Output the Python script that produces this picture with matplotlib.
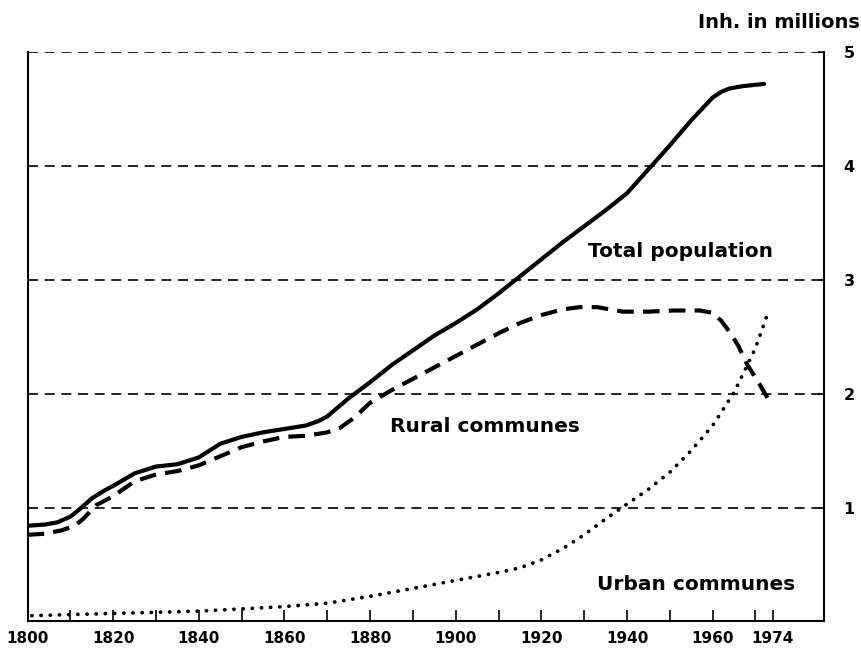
import matplotlib
matplotlib.use("Agg")
from matplotlib import pyplot as plt

# values (millions of inhabitants)
total_years = [1800, 1804, 1807, 1810, 1812, 1815, 1818, 1820, 1825, 1830, 1835, 1840, 1845,
               1850, 1855, 1860, 1865, 1868, 1870, 1875, 1880, 1885, 1890, 1895, 1900, 1905,
               1910, 1915, 1920, 1925, 1930, 1935, 1940, 1945, 1950, 1955, 1960, 1962, 1964,
               1967, 1972]
total_pop = [0.84, 0.85, 0.87, 0.92, 0.98, 1.08, 1.15, 1.19, 1.30, 1.36, 1.38, 1.44, 1.56,
             1.62, 1.66, 1.69, 1.72, 1.76, 1.80, 1.96, 2.10, 2.25, 2.38, 2.51, 2.62, 2.74,
             2.88, 3.03, 3.18, 3.33, 3.47, 3.61, 3.76, 3.97, 4.18, 4.40, 4.60, 4.65, 4.68,
             4.70, 4.72]

rural_years = [1800, 1804, 1808, 1811, 1813, 1816, 1820, 1825, 1830, 1835, 1840, 1845, 1850,
               1855, 1860, 1865, 1870, 1873, 1876, 1880, 1885, 1890, 1895, 1900, 1905, 1910,
               1915, 1920, 1925, 1929, 1933, 1939, 1945, 1951, 1957, 1960, 1962, 1964, 1966,
               1968, 1971, 1973]
rural_pop = [0.76, 0.77, 0.80, 0.84, 0.90, 1.02, 1.10, 1.23, 1.29, 1.32, 1.37, 1.45, 1.53,
             1.58, 1.62, 1.63, 1.66, 1.70, 1.78, 1.92, 2.03, 2.13, 2.23, 2.33, 2.43, 2.53,
             2.62, 2.69, 2.74, 2.76, 2.76, 2.72, 2.72, 2.73, 2.73, 2.71, 2.64, 2.54, 2.42,
             2.26, 2.08, 1.95]

urban_years = [1801, 1810, 1820, 1830, 1840, 1850, 1860, 1870, 1880, 1890, 1900, 1910, 1915,
               1920, 1925, 1930, 1935, 1940, 1945, 1950, 1955, 1960, 1965, 1970, 1973]
urban_pop = [0.05, 0.06, 0.07, 0.08, 0.09, 0.11, 0.13, 0.16, 0.22, 0.29, 0.36, 0.43, 0.47,
             0.54, 0.64, 0.76, 0.90, 1.03, 1.16, 1.31, 1.50, 1.72, 2.01, 2.40, 2.72]

x_ticks = list(range(1800, 1971, 10)) + [1974]
x_labels = [str(y) if (y - 1800) % 20 == 0 else "" for y in range(1800, 1971, 10)] + ["1974"]
y_ticks = [1, 2, 3, 4, 5]

plt.rcParams['font.family'] = ['DejaVu Sans']
plt.rcParams['font.weight'] = 'bold'

fig = plt.figure(figsize=(8.61, 6.5), dpi=100)
ax = fig.add_axes([0.032, 0.044, 0.925, 0.876])

# dashed horizontal guides
for y in y_ticks:
    ax.axhline(y, color="black", lw=1.2, linestyle=(0, (6, 4)), zorder=1)

ax.plot(total_years, total_pop, color="black", lw=3.0, solid_capstyle="round",
        solid_joinstyle="round", zorder=3)
ax.plot(rural_years, rural_pop, color="black", lw=3.0, linestyle=(0, (4, 2.2)),
        dash_joinstyle="round", zorder=3)
ax.plot(urban_years, urban_pop, color="black", lw=2.7, linestyle=(0, (0.05, 2.4)),
        dash_capstyle="round", zorder=3)

ax.text(1930.8, 3.2, "Total population", fontsize=14.5, fontweight="bold")
ax.text(1884.6, 1.66, "Rural communes", fontsize=14.5, fontweight="bold")
ax.text(1933, 0.28, "Urban communes", fontsize=14.5, fontweight="bold")

ax.set_xlim(1800, 1986)
ax.set_ylim(0, 5)

ax.spines["top"].set_visible(False)
for s in ["left", "right", "bottom"]:
    ax.spines[s].set_linewidth(1.5)

ax.set_xticks(x_ticks)
ax.set_xticklabels(x_labels, fontsize=11, fontweight="bold")
ax.tick_params(axis="x", direction="in", length=8, width=1.2, pad=7)

ax.yaxis.tick_right()
ax.set_yticks(y_ticks)
ax.set_yticklabels([str(v) for v in y_ticks], fontsize=11.5, fontweight="bold")
ax.tick_params(axis="y", direction="in", length=4, width=1.2, pad=14)

fig.text(0.999, 0.966, "Inh. in millions", ha="right", va="center", fontsize=14,
         fontweight="bold")

fig.savefig("out.png", dpi=100)
